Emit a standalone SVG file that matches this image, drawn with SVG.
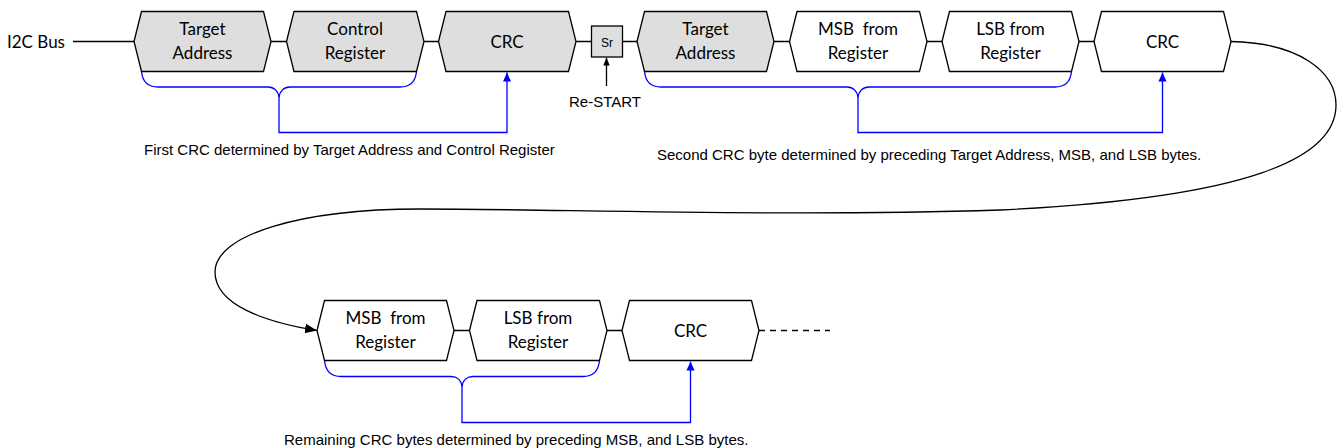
<svg xmlns="http://www.w3.org/2000/svg" width="1338" height="448" viewBox="0 0 1338 448">
<defs>
<style>
.box{stroke:#000;stroke-width:1.3;stroke-linejoin:miter}
.g{fill:#dedede}
.w{fill:#fff}
.lbl{font-family:Lato,"Liberation Sans",sans-serif;font-size:17px;fill:#000;text-anchor:middle}
.cap{font-family:"Liberation Sans",Arial,sans-serif;font-size:15px;fill:#000}
.ln{fill:none;stroke:#000;stroke-width:1.3}
.bl{fill:none;stroke:#0000ff;stroke-width:1.3}
</style>
<marker id="ab" markerWidth="9" markerHeight="9" viewBox="0 0 10 10" refX="10" refY="5" orient="auto" markerUnits="userSpaceOnUse"><path d="M0,0.5 L10,5 L0,9.5 Z" fill="#0000ff"/></marker>
<marker id="ak" markerWidth="12" markerHeight="12" viewBox="0 0 10 10" refX="10" refY="5" orient="auto" markerUnits="userSpaceOnUse"><path d="M0,1 L10,5 L0,9 Z" fill="#000"/></marker>
<marker id="ks" markerWidth="8" markerHeight="8" viewBox="0 0 10 10" refX="10" refY="5" orient="auto" markerUnits="userSpaceOnUse"><path d="M0,1 L10,5 L0,9 Z" fill="#000"/></marker>
</defs>
<rect width="1338" height="448" fill="#fff"/>

<g id="connectors">
<path class="ln" d="M73,41.5 H134 M271,41.5 H286.5 M424,41.5 H438.5 M576,41.5 H591.5 M622.5,41.5 H637 M774,41.5 H789.5 M927,41.5 H942 M1079,41.5 H1094 M454,330.5 H469.5 M607,330.5 H622"/>
<path class="ln" d="M759,330.5 H830" stroke-dasharray="6,5"/>
<path class="ln" d="M606.5,86 V57.5" marker-end="url(#ks)"/>
<path class="ln" d="M1231,41.5 C1300,43 1336,72 1336,105 C1336,158 1250,198 1000,210 C780,217 560,209 420,209 C300,209 215,235 215,272 C215,305 265,322 317,330.5" marker-end="url(#ak)"/>
<path class="bl" d="M141.5,71.5 C142.5,82 148,87 158,87 H268 C274,87 278.5,91 279,98 M416.5,71.5 C415.5,82 410,87 400,87 H290 C284,87 279.5,91 279,98"/>
<path class="bl" d="M279,98 V132.5 H507 V72.5" marker-end="url(#ab)"/>
<path class="bl" d="M644.5,71.5 C645.5,82 651,87 661,87 H847 C853,87 857.5,91 858,98 M1071.5,71.5 C1070.5,82 1065,87 1055,87 H869 C863,87 858.5,91 858,98"/>
<path class="bl" d="M858,98 V132.5 H1162.5 V72.5" marker-end="url(#ab)"/>
<path class="bl" d="M324.5,360.5 C325.5,371 331,376.5 341,376.5 H451 C457,376.5 461.5,380 462,387 M599.5,360.5 C598.5,371 593,376.5 583,376.5 H473 C467,376.5 462.5,380 462,387"/>
<path class="bl" d="M462,387 V422.5 H690.5 V361.5" marker-end="url(#ab)"/>
</g>

<g id="bus-label"><text class="lbl" x="7" y="48" style="text-anchor:start">I2C Bus</text></g>

<g id="n1"><path class="box g" d="M134,41.5 L141.5,11.5 L263.5,11.5 L271,41.5 L263.5,71.5 L141.5,71.5 Z"/><text class="lbl" x="202.5" y="35">Target</text><text class="lbl" x="202.5" y="59">Address</text></g>
<g id="n2"><path class="box g" d="M286.5,41.5 L294,11.5 L416.5,11.5 L424,41.5 L416.5,71.5 L294,71.5 Z"/><text class="lbl" x="355" y="35">Control</text><text class="lbl" x="355" y="59">Register</text></g>
<g id="n3"><path class="box g" d="M438.5,41.5 L446,11.5 L568.5,11.5 L576,41.5 L568.5,71.5 L446,71.5 Z"/><text class="lbl" x="507" y="48">CRC</text></g>
<g id="sr"><rect class="box g" x="591.5" y="26" width="31" height="31"/><text x="607" y="46.5" style="font-family:'Liberation Sans',Arial,sans-serif;font-size:12px;text-anchor:middle">Sr</text></g>
<g id="restart"><text class="cap" x="605" y="107" style="text-anchor:middle">Re-START</text></g>
<g id="n5"><path class="box g" d="M637,41.5 L644.5,11.5 L766.5,11.5 L774,41.5 L766.5,71.5 L644.5,71.5 Z"/><text class="lbl" x="705.5" y="35">Target</text><text class="lbl" x="705.5" y="59">Address</text></g>
<g id="n6"><path class="box w" d="M789.5,41.5 L797,11.5 L919.5,11.5 L927,41.5 L919.5,71.5 L797,71.5 Z"/><text class="lbl" x="858" y="35" xml:space="preserve">MSB  from</text><text class="lbl" x="858" y="59">Register</text></g>
<g id="n7"><path class="box w" d="M942,41.5 L949.5,11.5 L1071.5,11.5 L1079,41.5 L1071.5,71.5 L949.5,71.5 Z"/><text class="lbl" x="1010.5" y="35">LSB from</text><text class="lbl" x="1010.5" y="59">Register</text></g>
<g id="n8"><path class="box w" d="M1094,41.5 L1101.5,11.5 L1223.5,11.5 L1231,41.5 L1223.5,71.5 L1101.5,71.5 Z"/><text class="lbl" x="1162.5" y="48">CRC</text></g>

<g id="n9"><path class="box w" d="M317,330.5 L324.5,300.5 L446.5,300.5 L454,330.5 L446.5,360.5 L324.5,360.5 Z"/><text class="lbl" x="385.5" y="324" xml:space="preserve">MSB  from</text><text class="lbl" x="385.5" y="348">Register</text></g>
<g id="n10"><path class="box w" d="M469.5,330.5 L477,300.5 L599.5,300.5 L607,330.5 L599.5,360.5 L477,360.5 Z"/><text class="lbl" x="538" y="324">LSB from</text><text class="lbl" x="538" y="348">Register</text></g>
<g id="n11"><path class="box w" d="M622,330.5 L629.5,300.5 L751.5,300.5 L759,330.5 L751.5,360.5 L629.5,360.5 Z"/><text class="lbl" x="690.5" y="337">CRC</text></g>

<g id="captions">
<text class="cap" x="144" y="155">First CRC determined by Target Address and Control Register</text>
<text class="cap" x="657" y="160">Second CRC byte determined by preceding Target Address, MSB, and LSB bytes.</text>
<text class="cap" x="284" y="445">Remaining CRC bytes determined by preceding MSB, and LSB bytes.</text>
</g>
</svg>
